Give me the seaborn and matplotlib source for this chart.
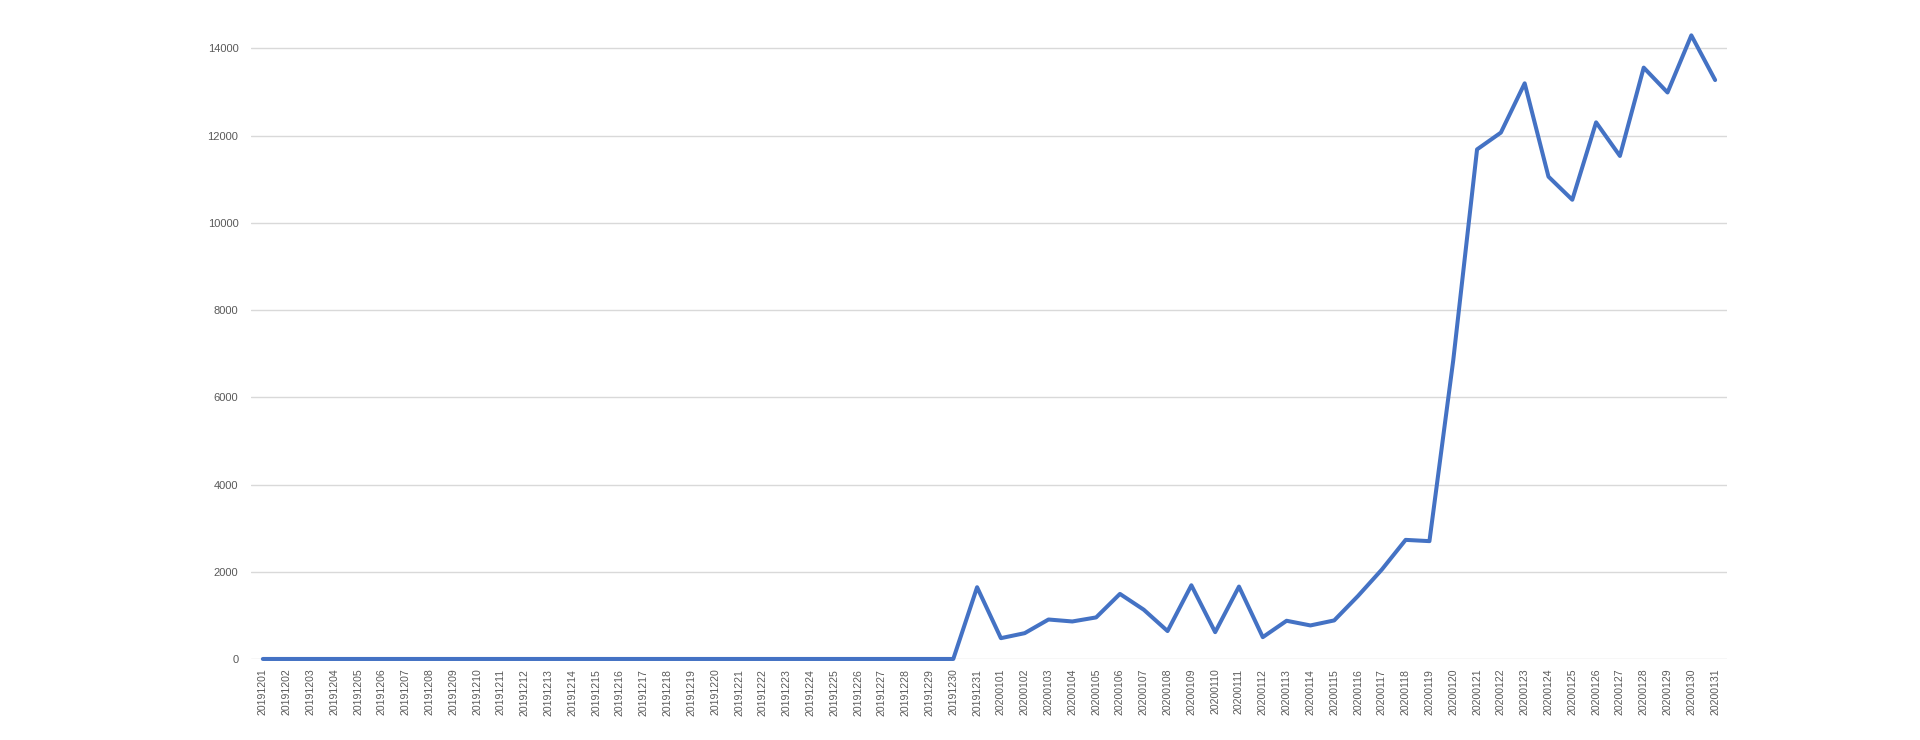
import matplotlib
matplotlib.use("Agg")
import matplotlib.pyplot as plt
import seaborn as sns
import pandas as pd

dates_dec = [f"201912{d:02d}" for d in range(1, 32)]
dates_jan = [f"202001{d:02d}" for d in range(1, 32)]
dates = dates_dec + dates_jan

values_dec = [0] * 30 + [1645]
values_jan = [477, 592, 905, 860, 953, 1492, 1130, 640, 1690, 615,
              1660, 500, 876, 769, 884, 1445, 2050, 2731, 2702, 6850,
              11685, 12070, 13200, 11060, 10530, 12305, 11535, 13560, 12990, 14300,
              13275]
values = values_dec + values_jan

yticks = [0, 2000, 4000, 6000, 8000, 10000, 12000, 14000]

df = pd.DataFrame({"date": dates, "value": values})

sns.set_theme(style="white")
plt.rcParams['font.family'] = ['Liberation Sans', 'DejaVu Sans']

fig = plt.figure(figsize=(19.2, 7.4), dpi=100)
ax = fig.add_axes([0.1307, 0.1095, 0.8995 - 0.1307, 0.964 - 0.1095])

for t in yticks:
    ax.axhline(t, color="#d9d9d9", linewidth=1.0, zorder=0)

sns.lineplot(data=df, x="date", y="value", ax=ax, color="#4472C4",
             linewidth=2.9, sort=False, clip_on=False, zorder=3)

ax.set_xlim(-0.5, len(dates) - 0.5)
ax.set_ylim(0, 14500)
ax.set_yticks(yticks)
ax.set_yticklabels([str(t) for t in yticks])
ax.set_xticks(range(len(dates)))
ax.set_xticklabels(dates, rotation=90)
ax.tick_params(axis="x", length=0, pad=7, labelsize=7.6, labelcolor="#595959")
ax.tick_params(axis="y", length=0, pad=9, labelsize=8.0, labelcolor="#595959")
ax.set_xlabel("")
ax.set_ylabel("")
for s in ax.spines.values():
    s.set_visible(False)
ax.grid(False)

fig.savefig("out.png", dpi=100, facecolor="white")
